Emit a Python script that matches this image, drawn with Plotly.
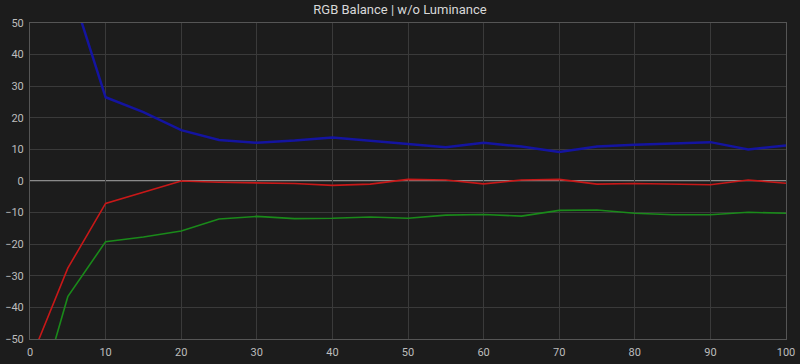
import plotly.graph_objects as go

x = [0, 5, 10, 15, 20, 25, 30, 35, 40, 45, 50, 55, 60, 65, 70, 75, 80, 85, 90, 95, 100]
red = [-57, -27.6, -7.1, -3.5, 0.0, -0.4, -0.6, -0.8, -1.4, -1.0, 0.5, 0.3, -0.9, 0.3, 0.5, -1.0, -0.8, -0.9, -1.2, 0.3, -0.7]
green = [-78, -36.6, -19.2, -17.7, -15.8, -12.0, -11.2, -11.9, -11.8, -11.4, -11.8, -10.8, -10.6, -11.1, -9.3, -9.2, -10.2, -10.7, -10.7, -9.9, -10.2]
blue = [110, 64, 26.5, 21.8, 16.1, 13.0, 12.1, 12.8, 13.8, 12.8, 11.7, 10.7, 12.1, 10.9, 9.2, 10.9, 11.5, 11.9, 12.3, 10.0, 11.2]
x_ticks = [0, 10, 20, 30, 40, 50, 60, 70, 80, 90, 100]
y_ticks = [-50, -40, -30, -20, -10, 0, 10, 20, 30, 40, 50]

fig = go.Figure()
fig.add_trace(go.Scatter(x=x, y=blue, mode="lines", line=dict(color="#1414a0", width=2.5), showlegend=False))
fig.add_trace(go.Scatter(x=x, y=red, mode="lines", line=dict(color="#c81818", width=1.6), showlegend=False))
fig.add_trace(go.Scatter(x=x, y=green, mode="lines", line=dict(color="#1a8a1a", width=1.6), showlegend=False))

axis_common = dict(
    showgrid=True, gridcolor="#3a3a3a", gridwidth=1,
    showline=True, linecolor="#555555", linewidth=1, mirror=True,
    ticks="", tickfont=dict(family="Roboto", size=11, color="#bdbdbd"),
    zeroline=False, automargin=False,
)
fig.update_xaxes(range=[0, 100], tickvals=x_ticks, ticklabelstandoff=3, **axis_common)
fig.update_yaxes(range=[-50, 50], tickvals=y_ticks, ticklabelstandoff=3, **axis_common)
fig.add_hline(y=0, line=dict(color="#8a8a8a", width=2), layer="below")

fig.update_layout(
    width=800, height=364,
    paper_bgcolor="#1c1c1c", plot_bgcolor="#1c1c1c",
    margin=dict(l=30, r=14, t=23, b=25),
    title=dict(text="RGB Balance | w/o Luminance", x=0.5, xanchor="center", y=0.975, yanchor="middle",
               font=dict(family="Roboto", size=13, color="#d8d8d8")),
)
fig.write_html("out.html")
